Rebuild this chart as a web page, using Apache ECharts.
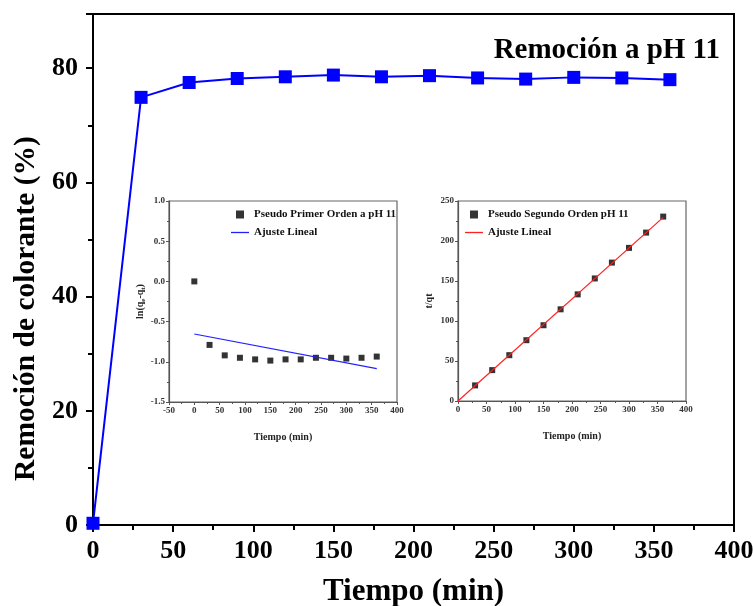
<!DOCTYPE html>
<html>
<head>
<meta charset="utf-8">
<script src="https://cdn.jsdelivr.net/npm/echarts@6/dist/echarts.min.js"></script>
<style>
html, body { margin: 0; padding: 0; background: #fff; }
#chart { width: 753px; height: 606px; }
</style>
</head>
<body>
<div id="chart"></div>
<script>
// datos de la curva principal (remoción vs tiempo)
var tiempo = [0, 30, 60, 90, 120, 150, 180, 210, 240, 270, 300, 330, 360];
var remocion = [0.3, 74.9, 77.5, 78.2, 78.5, 78.8, 78.5, 78.7, 78.3, 78.1, 78.4, 78.3, 78.0];

// pseudo primer orden
var tPrimer = [0, 30, 60, 90, 120, 150, 180, 210, 240, 270, 300, 330, 360];
var lnPrimer = [0.0, -0.79, -0.92, -0.95, -0.97, -0.985, -0.97, -0.97, -0.95, -0.95, -0.96, -0.95, -0.935];
var ajustePrimerX = [0, 360];
var ajustePrimerY = [-0.654, -1.085];

// pseudo segundo orden
var tSegundo = [30, 60, 90, 120, 150, 180, 210, 240, 270, 300, 330, 360];
var tqt = [19.5, 38.6, 57.3, 76.0, 94.7, 114.6, 133.3, 153.2, 173.0, 191.4, 210.5, 230.5];
var ajusteSegundoX = [0, 360];
var ajusteSegundoY = [0, 229.5];

function pares(xs, ys) {
    var out = [];
    for (var i = 0; i < xs.length; i++) out.push([xs[i], ys[i]]);
    return out;
}

var FONT = 'Liberation Serif';
var sq = 'path://M0,0h10v10h-10z';
var raya = 'path://M0,0h18v1.3h-18z';

// eje pequeño de los recuadros
function ejeInset(grid, min, max, interval, name, gap, fmt) {
    return {
        type: 'value', gridIndex: grid, min: min, max: max, interval: interval,
        name: name, nameLocation: 'middle', nameGap: gap,
        nameTextStyle: { fontFamily: FONT, fontWeight: 'bold', fontSize: 10, color: '#222' },
        axisLine: { show: true, onZero: false, lineStyle: { color: '#555', width: 1.2 } },
        axisTick: { show: true, length: 3, lineStyle: { color: '#555' } },
        minorTick: { show: true, splitNumber: 2, length: 2, lineStyle: { color: '#555' } },
        axisLabel: { fontFamily: FONT, fontWeight: 'bold', fontSize: 9, color: '#333', margin: 4, formatter: fmt },
        splitLine: { show: false }
    };
}

var option = {
    backgroundColor: '#fff',
    animation: false,
    title: {
        text: 'Remoción a pH 11', right: 28, top: 31,
        textStyle: { fontFamily: FONT, fontWeight: 'bold', fontSize: 29, color: '#000' }
    },
    grid: [
        { left: 93, top: 14, right: 19, bottom: 81, outerBoundsMode: 'none', show: true, borderColor: '#000', borderWidth: 2 },
        { left: 169, top: 201, width: 228, height: 201, outerBoundsMode: 'none', show: true, backgroundColor: '#fff', borderColor: '#666', borderWidth: 1.2 },
        { left: 458, top: 201, width: 228, height: 200, outerBoundsMode: 'none', show: true, backgroundColor: '#fff', borderColor: '#666', borderWidth: 1.2 }
    ],
    legend: [
        {
            orient: 'vertical', left: 231, top: 209, padding: 0, itemGap: 7, itemWidth: 18, itemHeight: 8,
            textStyle: { fontFamily: FONT, fontWeight: 'bold', fontSize: 11, color: '#111' },
            data: [
                { name: 'Pseudo Primer Orden a pH 11', icon: sq },
                { name: 'Ajuste Lineal', icon: raya, itemStyle: { color: '#2020ff' } }
            ]
        },
        {
            orient: 'vertical', left: 465, top: 209, padding: 0, itemGap: 7, itemWidth: 18, itemHeight: 8,
            textStyle: { fontFamily: FONT, fontWeight: 'bold', fontSize: 11, color: '#111' },
            data: [
                { name: 'Pseudo Segundo Orden pH 11', icon: sq },
                { name: 'Ajuste Lineal', icon: raya, itemStyle: { color: '#ff2020' } }
            ]
        }
    ],
    xAxis: [
        {
            type: 'value', gridIndex: 0, min: 0, max: 400, interval: 50,
            name: 'Tiempo (min)', nameLocation: 'middle', nameGap: 51,
            nameTextStyle: { fontFamily: FONT, fontWeight: 'bold', fontSize: 31, color: '#000' },
            axisLine: { show: true, onZero: false, lineStyle: { color: '#000', width: 2 } },
            axisTick: { show: true, length: 7, lineStyle: { color: '#000', width: 2 } },
            minorTick: { show: true, splitNumber: 2, length: 5, lineStyle: { color: '#000', width: 2 } },
            axisLabel: { fontFamily: FONT, fontWeight: 'bold', fontSize: 26, color: '#000', margin: 13 },
            splitLine: { show: false }
        },
        ejeInset(1, -50, 400, 50, 'Tiempo (min)', 30),
        ejeInset(2, 0, 400, 50, 'Tiempo (min)', 30)
    ],
    yAxis: [
        {
            type: 'value', gridIndex: 0, min: 0, max: 89.5, interval: 20,
            name: 'Remoción de colorante (%)', nameLocation: 'middle', nameGap: 41,
            nameTextStyle: { fontFamily: FONT, fontWeight: 'bold', fontSize: 29.5, color: '#000', padding: [0, 78, 0, 0] },
            axisLine: { show: true, onZero: false, lineStyle: { color: '#000', width: 2 } },
            axisTick: { show: true, length: 7, lineStyle: { color: '#000', width: 2 } },
            minorTick: { show: true, splitNumber: 2, length: 5, lineStyle: { color: '#000', width: 2 } },
            axisLabel: {
                fontFamily: FONT, fontWeight: 'bold', fontSize: 26, color: '#000', margin: 15,
                formatter: function (v) { return v % 20 === 0 ? String(v) : ''; }
            },
            splitLine: { show: false }
        },
        (function () {
            var a = ejeInset(1, -1.5, 1.0, 0.5, '{a|ln(q}{s|e}{a|-q}{s|t}{a|)}', 17,
                function (v) { return v.toFixed(1); });
            a.nameTextStyle.rich = {
                a: { fontFamily: FONT, fontWeight: 'bold', fontSize: 10, color: '#222' },
                s: { fontFamily: FONT, fontWeight: 'bold', fontSize: 7, color: '#222', padding: [6, 0, 0, 0] }
            };
            return a;
        })(),
        ejeInset(2, 0, 250, 50, 't/qt', 24)
    ],
    series: [
        {
            name: 'Remoción', type: 'line', xAxisIndex: 0, yAxisIndex: 0,
            data: pares(tiempo, remocion),
            symbol: 'rect', symbolSize: 13,
            lineStyle: { color: '#0000ff', width: 2 },
            itemStyle: { color: '#0000ff' }
        },
        {
            name: 'Pseudo Primer Orden a pH 11', type: 'scatter', xAxisIndex: 1, yAxisIndex: 1,
            data: pares(tPrimer, lnPrimer), symbol: 'rect', symbolSize: 6,
            itemStyle: { color: '#000' }
        },
        {
            name: 'Ajuste Lineal', type: 'line', xAxisIndex: 1, yAxisIndex: 1,
            data: pares(ajustePrimerX, ajustePrimerY), symbol: 'none',
            lineStyle: { color: '#2020ff', width: 1.2 }, itemStyle: { color: '#2020ff' }
        },
        {
            name: 'Pseudo Segundo Orden pH 11', type: 'scatter', xAxisIndex: 2, yAxisIndex: 2,
            data: pares(tSegundo, tqt), symbol: 'rect', symbolSize: 6,
            itemStyle: { color: '#000' }, z: 2
        },
        {
            name: 'Ajuste Lineal', type: 'line', xAxisIndex: 2, yAxisIndex: 2,
            data: pares(ajusteSegundoX, ajusteSegundoY), symbol: 'none',
            lineStyle: { color: '#ff2020', width: 1.2 }, itemStyle: { color: '#ff2020' }, z: 3
        }
    ]
};

echarts.init(document.getElementById('chart')).setOption(option);
</script>
</body>
</html>
